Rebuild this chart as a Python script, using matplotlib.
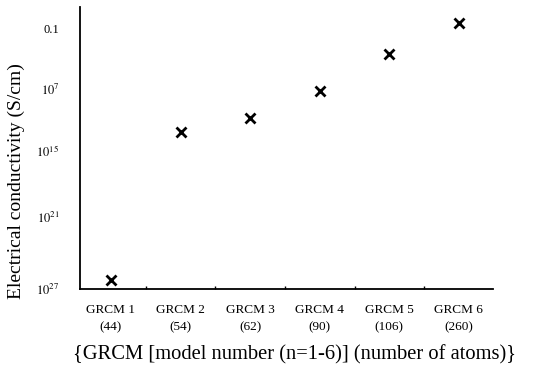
import numpy as np
import matplotlib
matplotlib.use("Agg")
import matplotlib.pyplot as plt
from matplotlib.ticker import FixedLocator

plt.rcParams['font.family'] = ['Liberation Serif', 'DejaVu Serif']
plt.rcParams['mathtext.fontset'] = 'stix'

# ---- data ----
models = ["GRCM 1", "GRCM 2", "GRCM 3", "GRCM 4", "GRCM 5", "GRCM 6"]
atoms = ["(44)", "(54)", "(62)", "(90)", "(106)", "(260)"]
conductivity = [5.6e-27, 2.6e-13, 1.8e-11, 5.7e-8, 2.7e-4, 0.31]  # S/cm
ytick_values = [1e-1, 1e-7, 1e-15, 1e-21, 1e-27]
ytick_labels = ["0.1", r"$10^{7}$", r"$10^{15}$", r"$10^{21}$", r"$10^{27}$"]

# piecewise log scale (the original axis is not uniformly spaced)
anchor_exp = np.array([-40.0, -27.0, -21.0, -15.0, -7.0, -1.0, 10.0])
anchor_pos = np.array([-13 * 12.0, 0.0, 72.0, 138.0, 200.0, 261.0, 261.0 + 11 * 10.17])


def forward(v):
    v = np.asarray(v, dtype=float)
    e = np.log10(np.clip(v, 1e-300, None))
    return np.interp(e, anchor_exp, anchor_pos)


def inverse(u):
    return 10.0 ** np.interp(np.asarray(u, dtype=float), anchor_pos, anchor_exp)


fig = plt.figure(figsize=(5.38, 3.77), dpi=100)
ax = fig.add_axes([80 / 538, 1 - 289 / 377, 413 / 538, 282 / 377])

x = np.arange(1, len(models) + 1)
ax.plot(x, conductivity, linestyle='none', marker='x', markersize=7,
        markeredgewidth=2.0, color='black')

ax.set_yscale('function', functions=(forward, inverse))
ax.set_ylim(1e-27, 10 ** 1.07)
ax.set_xlim(0.555, 6.49)

ax.yaxis.set_major_locator(FixedLocator(ytick_values))
ax.set_yticklabels(ytick_labels)
ax.yaxis.set_minor_locator(FixedLocator([]))
ax.tick_params(axis='y', length=0, pad=15, labelsize=9)

ax.set_xticks(x)
ax.set_xticklabels([f"{m}\n{a}" for m, a in zip(models, atoms)], linespacing=1.6)
ax.set_xticks(np.arange(1.5, 6.0, 1.0), minor=True)
ax.tick_params(axis='x', which='major', length=0, pad=11, labelsize=9.5)
ax.tick_params(axis='x', which='minor', direction='in', length=2.5, width=1)

for s in ['top', 'right']:
    ax.spines[s].set_visible(False)
for s in ['left', 'bottom']:
    ax.spines[s].set_linewidth(1.3)

ax.set_ylabel("Electrical conductivity (S/cm)", fontsize=14)
ax.yaxis.set_label_coords(-0.133, 0.383)
ax.set_xlabel("{GRCM [model number (n=1-6)] (number of atoms)}", fontsize=14.8)
ax.xaxis.set_label_coords(0.519, -0.2)
ax.xaxis.label.set_va('top')

fig.savefig("out.png", dpi=100)
